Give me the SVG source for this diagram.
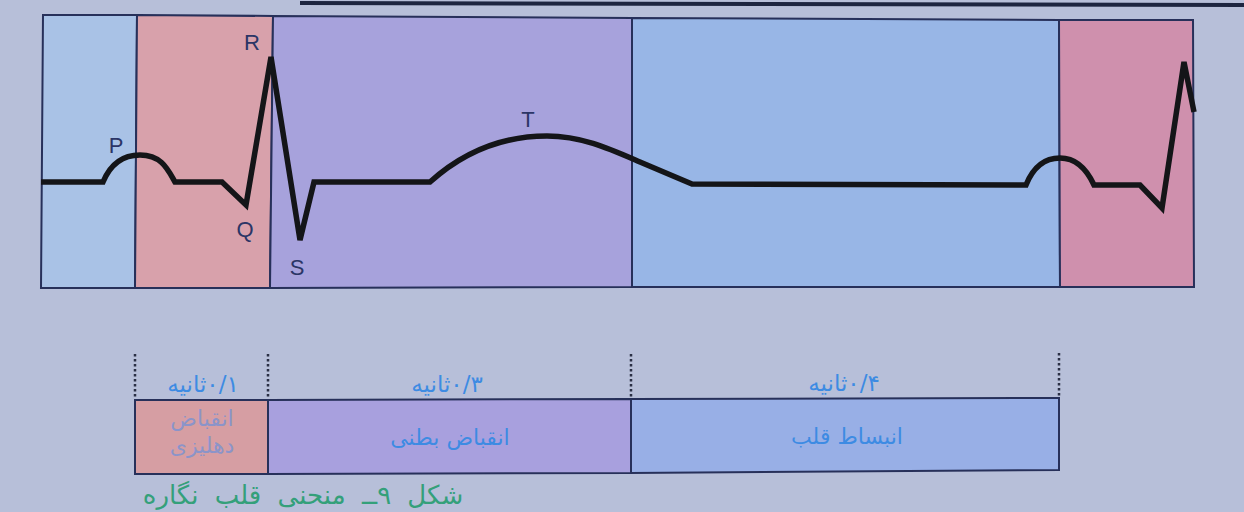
<svg xmlns="http://www.w3.org/2000/svg" width="1244" height="512" viewBox="0 0 1244 512">
<style>
.frame{stroke:#27305a;stroke-width:2;stroke-linejoin:miter}
.wave{fill:none;stroke:#141518;stroke-width:5.5;stroke-linejoin:miter;stroke-linecap:butt}
.lbl{font-family:"Liberation Sans",Arial,sans-serif;font-size:22px;fill:#2b3566;text-anchor:middle}
.dur{font-family:"DejaVu Sans",sans-serif;font-size:23px;fill:#3d8be3;text-anchor:middle}
.phase{font-family:"DejaVu Sans",sans-serif;font-size:22px;fill:#3d8be3;text-anchor:middle}
.phase2{font-family:"DejaVu Sans",sans-serif;font-size:22px;fill:#8b94c9;text-anchor:middle}
.cap{font-family:"DejaVu Sans",sans-serif;font-size:26px;fill:#34a07a;text-anchor:middle;word-spacing:8px}
.dots{stroke:#2a2f45;stroke-width:2.5;stroke-dasharray:2.5 2.5;fill:none}
</style>
<rect x="0" y="0" width="1244" height="512" fill="#b7bfd9"/>
<path d="M300,3 L1244,5" stroke="#1d2540" stroke-width="4" fill="none"/>

<g id="panel-atrial-1"><polygon class="frame" points="43,15 137,15 135,288 41,288" fill="#a9c2e6"/></g>
<g id="panel-atrial-contraction"><polygon class="frame" points="137,15 273,16 270,288 135,288" fill="#d8a1ab"/></g>
<g id="panel-ventricular-contraction"><polygon class="frame" points="273,16 632,18 632,287 270,288" fill="#a7a2dc"/></g>
<g id="panel-relaxation"><polygon class="frame" points="632,18 1059,20 1060,287 632,287" fill="#98b6e6"/></g>
<g id="panel-atrial-2"><polygon class="frame" points="1059,20 1193,20 1194,287 1060,287" fill="#cf90ad"/></g>

<g id="ecg-trace">
<path class="wave" d="M41,182 L103,182 C108,170 118,155 140,155 C162,155 168,170 175,182 L222,182 L246,205 L271,57 L300,240 L314,182 L430,182 C470,146 510,136 547,136 C582,136 610,149 640,162 L692,184 L1026,185 C1032,170 1042,158 1060,158 C1078,158 1088,172 1094,185 L1140,185 L1162,208 L1184,62 L1194,112"/>
</g>

<g id="wave-labels">
<text class="lbl" x="116" y="153">P</text>
<text class="lbl" x="252" y="50">R</text>
<text class="lbl" x="245" y="237">Q</text>
<text class="lbl" x="297" y="275">S</text>
<text class="lbl" x="528" y="127">T</text>
</g>

<g id="dotted-markers">
<path class="dots" d="M135,354 L135,399"/>
<path class="dots" d="M268,354 L268,399"/>
<path class="dots" d="M631,354 L631,398"/>
<path class="dots" d="M1059,353 L1059,398"/>
</g>

<g id="durations">
<text class="dur" x="203" y="392" direction="rtl">۰/۱ثانیه</text>
<text class="dur" x="447" y="392" direction="rtl">۰/۳ثانیه</text>
<text class="dur" x="844" y="391" direction="rtl">۰/۴ثانیه</text>
</g>

<g id="box-atrial">
<polygon class="frame" points="135,400 268,400 268,474 135,474" fill="#d69ea3"/>
<text class="phase2" x="202" y="426" direction="rtl">انقباض</text>
<text class="phase2" x="202" y="453" direction="rtl">دهلیزی</text>
</g>
<g id="box-ventricular">
<polygon class="frame" points="268,400 631,399 631,473 268,474" fill="#a8a0de"/>
<text class="phase" x="450" y="445" direction="rtl">انقباض بطنی</text>
</g>
<g id="box-relaxation">
<polygon class="frame" points="631,399 1059,398 1059,470 631,473" fill="#98afe6"/>
<text class="phase" x="847" y="444" direction="rtl">انبساط قلب</text>
</g>

<text class="cap" x="303" y="504" direction="rtl">شکل ۹ــ منحنی قلب نگاره</text>
</svg>
